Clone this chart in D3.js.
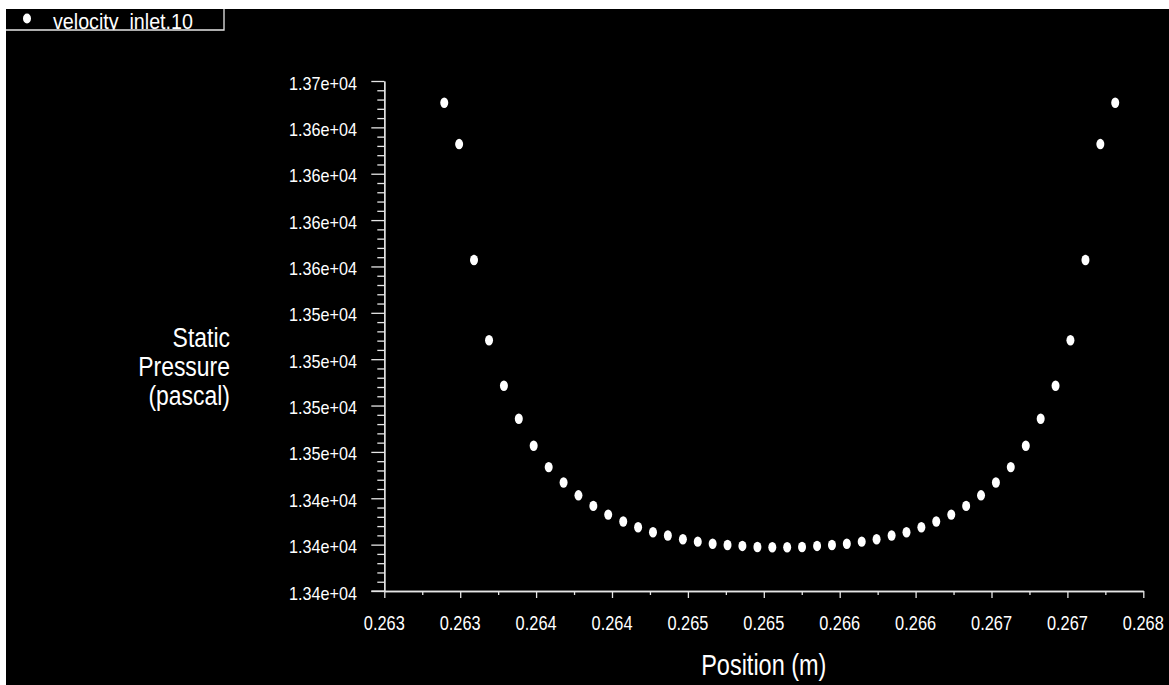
<!DOCTYPE html>
<html>
<head>
<meta charset="utf-8">
<script src="https://cdn.jsdelivr.net/npm/d3@7/dist/d3.min.js"></script>
<style>
  html, body { margin: 0; padding: 0; background: #ffffff; }
  svg { display: block; }
  text { font-family: "Liberation Sans", Arial, sans-serif; fill: #ffffff; }
</style>
</head>
<body>
<svg id="chart" width="1169" height="685"></svg>
<script>
// Static pressure sampled along the velocity inlet (position in m, pressure in Pa)
const seriesName = "velocity_inlet.10";
const position = [
  0.263195, 0.263293, 0.263391, 0.263490, 0.263588, 0.263686, 0.263784, 0.263883,
  0.263981, 0.264079, 0.264177, 0.264275, 0.264374, 0.264472, 0.264570, 0.264668,
  0.264767, 0.264865, 0.264963, 0.265061, 0.265159, 0.265258, 0.265356, 0.265454,
  0.265552, 0.265651, 0.265749, 0.265847, 0.265945, 0.266043, 0.266142, 0.266240,
  0.266338, 0.266436, 0.266535, 0.266633, 0.266731, 0.266829, 0.266927, 0.267026,
  0.267124, 0.267222, 0.267320, 0.267419, 0.267517, 0.267615
];
const pressure = [
  13638.3, 13616.0, 13553.5, 13510.2, 13485.7, 13467.9, 13453.3, 13441.8,
  13433.5, 13426.6, 13420.9, 13416.2, 13412.5, 13409.4, 13406.7, 13404.9,
  13402.9, 13401.6, 13400.5, 13399.8, 13399.3, 13398.7, 13398.6, 13398.6,
  13398.7, 13399.3, 13399.8, 13400.5, 13401.6, 13402.9, 13404.9, 13406.7,
  13409.4, 13412.5, 13416.2, 13420.9, 13426.6, 13433.5, 13441.8, 13453.3,
  13467.9, 13485.7, 13510.2, 13553.5, 13616.0, 13638.3
];

// Axis ticks
const xTicks = [0.2628, 0.2633, 0.2638, 0.2643, 0.2648, 0.2653, 0.2658, 0.2663, 0.2668, 0.2673, 0.2678];
const xTickLabels = ["0.263", "0.263", "0.264", "0.264", "0.265", "0.265", "0.266", "0.266", "0.267", "0.267", "0.268"];
const yTicks = [13375, 13400, 13425, 13450, 13475, 13500, 13525, 13550, 13575, 13600, 13625, 13650];
const yTickLabels = ["1.34e+04", "1.34e+04", "1.34e+04", "1.35e+04", "1.35e+04", "1.35e+04",
                     "1.35e+04", "1.36e+04", "1.36e+04", "1.36e+04", "1.36e+04", "1.37e+04"];
const xTitle = "Position (m)";
const yTitle = ["Static", "Pressure", "(pascal)"];

const W = 1169, H = 685;
const svg = d3.select("#chart");
const axisColor = "#e6e6e6";

// black plotting canvas
svg.append("rect").attr("x", 6).attr("y", 9).attr("width", W - 6).attr("height", H - 9).attr("fill", "#000");

const x = d3.scaleLinear().domain([0.2628, 0.2678]).range([384.3, 1143.3]);
const y = d3.scaleLinear().domain([13375, 13650]).range([591, 81]);

// text with narrowed glyphs
function label(g, tx, ty, str, size, anchor, sx) {
  return g.append("text")
    .attr("transform", `translate(${tx},${ty}) scale(${sx},1)`)
    .attr("text-anchor", anchor)
    .style("font-size", size + "px")
    .text(str);
}

// minor tick values between majors
const yMinor = [];
for (let i = 0; i < yTicks.length - 1; i++) {
  const step = (yTicks[i + 1] - yTicks[i]) / 5;
  for (let k = 1; k < 5; k++) yMinor.push(yTicks[i] + k * step);
}
const xMinor = [];
for (let i = 0; i < xTicks.length - 1; i++) xMinor.push((xTicks[i] + xTicks[i + 1]) / 2);

// Y axis
const gy = svg.append("g").attr("transform", `translate(${x.range()[0]},0)`);
gy.call(d3.axisLeft(y).tickValues(yTicks).tickSize(13).tickFormat("").tickSizeOuter(0));
gy.append("g").call(d3.axisLeft(y).tickValues(yMinor).tickSize(7).tickFormat("").tickSizeOuter(0));
gy.selectAll("path, line").attr("stroke", axisColor).attr("stroke-width", 1.3);
gy.selectAll("path").attr("fill", "none");

// X axis
const gx = svg.append("g").attr("transform", `translate(0,${y.range()[0]})`);
gx.call(d3.axisBottom(x).tickValues(xTicks).tickSize(7).tickFormat("").tickSizeOuter(0));
gx.append("g").call(d3.axisBottom(x).tickValues(xMinor).tickSize(4).tickFormat("").tickSizeOuter(0));
gx.selectAll("path, line").attr("stroke", axisColor).attr("stroke-width", 1.3);
gx.selectAll("path").attr("fill", "none");
// axis line continues under the bottom y tick
gx.append("line").attr("x1", x.range()[0] - 13).attr("x2", x.range()[0]).attr("y1", 0).attr("y2", 0)
  .attr("stroke", axisColor).attr("stroke-width", 1.3);

// tick labels
const labels = svg.append("g");
yTicks.forEach((v, i) => label(labels, 357, y(v) + 8.5, yTickLabels[i], 18.5, "end", 0.875));
xTicks.forEach((v, i) => label(labels, x(v), 629.5, xTickLabels[i], 19.5, "middle", 0.84));

// axis titles
label(svg, (x.range()[0] + x.range()[1]) / 2, 675, xTitle, 29, "middle", 0.81);
yTitle.forEach((t, i) => label(svg, 230, 346.7 + i * 29.3, t, 27, "end", 0.85));

// data points
svg.append("g").selectAll("ellipse")
  .data(position.map((p, i) => ({ p, v: pressure[i] })))
  .join("ellipse")
  .attr("cx", d => x(d.p))
  .attr("cy", d => y(d.v))
  .attr("rx", 4)
  .attr("ry", 5.2)
  .attr("fill", "#ffffff");

// legend
const defs = svg.append("defs");
defs.append("clipPath").attr("id", "legendClip")
  .append("rect").attr("x", 6).attr("y", 9).attr("width", 218).attr("height", 21);
const lg = svg.append("g");
lg.append("g").attr("clip-path", "url(#legendClip)").call(g => {
  g.append("ellipse").attr("cx", 27).attr("cy", 18.5).attr("rx", 4).attr("ry", 5).attr("fill", "#fff");
  label(g, 53, 28.5, seriesName, 21.5, "start", 0.915);
});
lg.append("polyline")
  .attr("points", "6,30 224,30 224,9")
  .attr("fill", "none").attr("stroke", axisColor).attr("stroke-width", 1.3);
</script>
</body>
</html>
